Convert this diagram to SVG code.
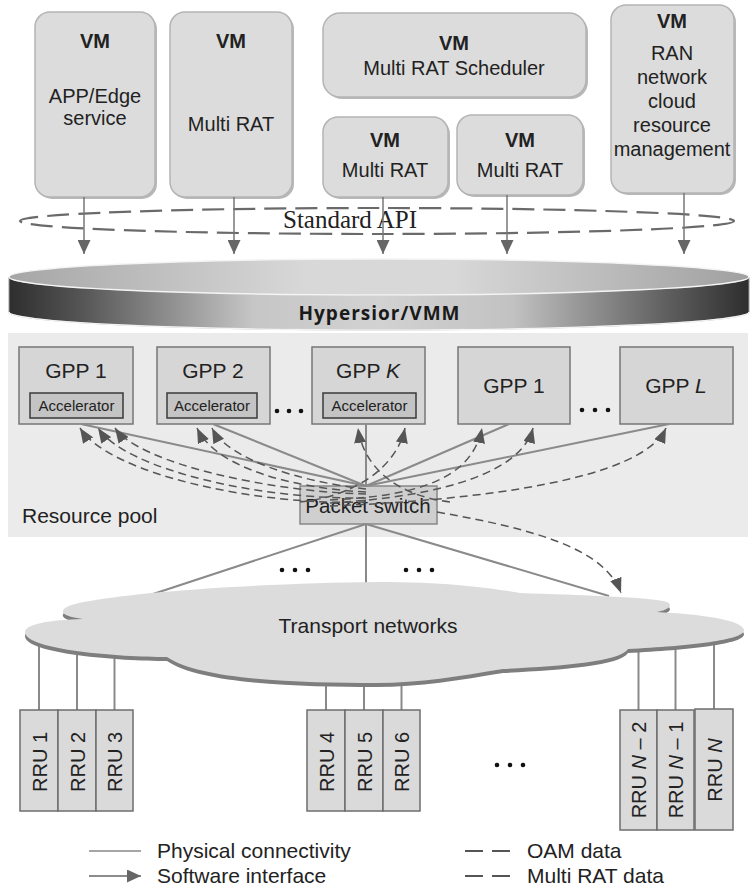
<svg xmlns="http://www.w3.org/2000/svg" width="752" height="896" viewBox="0 0 752 896">
<defs>
<style>
.t{font-family:"Liberation Sans",Arial,sans-serif;fill:#222}
.b{font-weight:bold}
.vm{fill:#dcdcdc;stroke:#b4b4b4;stroke-width:1.5}
.sh{fill:#b8b8b8}
.gpp{fill:#d6d6d6;stroke:#777;stroke-width:1.5}
.acc{fill:#c4c4c4;stroke:#3a3a3a;stroke-width:1.5}
.rru{fill:#dadada;stroke:#6e6e6e;stroke-width:1.5}
.phy{stroke:#8a8a8a;stroke-width:2;fill:none}
.sw{stroke:#777;stroke-width:1.5;fill:none}
.dash{stroke:#555;stroke-width:1.5;fill:none;stroke-dasharray:8 5}
.dot{fill:#111}
</style>
<linearGradient id="band" x1="0" x2="1" y1="0" y2="0">
<stop offset="0" stop-color="#2e2e2e"/>
<stop offset="0.1" stop-color="#565656"/>
<stop offset="0.33" stop-color="#c6c6c6"/>
<stop offset="0.5" stop-color="#d2d2d2"/>
<stop offset="0.68" stop-color="#c2c2c2"/>
<stop offset="0.9" stop-color="#5a5a5a"/>
<stop offset="1" stop-color="#2e2e2e"/>
</linearGradient>
<linearGradient id="topg" x1="0" x2="1" y1="0" y2="0">
<stop offset="0" stop-color="#a6a6a6"/>
<stop offset="0.4" stop-color="#d8d8d8"/>
<stop offset="0.6" stop-color="#d8d8d8"/>
<stop offset="1" stop-color="#a0a0a0"/>
</linearGradient>
<marker id="ah" markerWidth="14" markerHeight="13" refX="14" refY="6.5" orient="auto" markerUnits="userSpaceOnUse"><path d="M0,0 L14,6.5 L0,13 z" fill="#666"/></marker>
<marker id="dh" markerWidth="15" markerHeight="12" refX="15" refY="6" orient="auto" markerUnits="userSpaceOnUse"><path d="M0,0 L15,6 L0,12 z" fill="#555"/></marker>
</defs>
<rect width="752" height="896" fill="#fff"/>

<g id="vm-app">
<rect class="sh" x="37" y="14" width="120" height="185" rx="15"/>
<rect class="vm" x="35" y="12" width="120" height="185" rx="15"/>
<text class="t b" x="95" y="48" font-size="20" text-anchor="middle">VM</text>
<text class="t" x="95" y="103" font-size="20" text-anchor="middle">APP/Edge</text>
<text class="t" x="95" y="125" font-size="20" text-anchor="middle">service</text>
</g>
<g id="vm-multirat1">
<rect class="sh" x="172" y="14" width="122" height="185" rx="15"/>
<rect class="vm" x="170" y="12" width="122" height="185" rx="15"/>
<text class="t b" x="231" y="48" font-size="20" text-anchor="middle">VM</text>
<text class="t" x="231" y="131" font-size="20" text-anchor="middle">Multi RAT</text>
</g>
<g id="vm-scheduler">
<rect class="sh" x="325" y="15" width="263" height="84" rx="17"/>
<rect class="vm" x="323" y="13" width="263" height="84" rx="17"/>
<text class="t b" x="454" y="50" font-size="20" text-anchor="middle">VM</text>
<text class="t" x="454" y="75" font-size="20" text-anchor="middle">Multi RAT Scheduler</text>
</g>
<g id="vm-multirat2">
<rect class="sh" x="325" y="119" width="125" height="80" rx="15"/>
<rect class="vm" x="323" y="117" width="125" height="80" rx="15"/>
<text class="t b" x="385" y="147" font-size="20" text-anchor="middle">VM</text>
<text class="t" x="385" y="177" font-size="20" text-anchor="middle">Multi RAT</text>
</g>
<g id="vm-multirat3">
<rect class="sh" x="459" y="117" width="126" height="80" rx="15"/>
<rect class="vm" x="457" y="115" width="126" height="80" rx="15"/>
<text class="t b" x="520" y="147" font-size="20" text-anchor="middle">VM</text>
<text class="t" x="520" y="177" font-size="20" text-anchor="middle">Multi RAT</text>
</g>
<g id="vm-ran">
<rect class="sh" x="613" y="7" width="123" height="188" rx="15"/>
<rect class="vm" x="611" y="5" width="123" height="188" rx="15"/>
<text class="t b" x="672" y="28" font-size="20" text-anchor="middle">VM</text>
<text class="t" x="672" y="60" font-size="20" text-anchor="middle">RAN</text>
<text class="t" x="672" y="84" font-size="20" text-anchor="middle">network</text>
<text class="t" x="672" y="108" font-size="20" text-anchor="middle">cloud</text>
<text class="t" x="672" y="132" font-size="20" text-anchor="middle">resource</text>
<text class="t" x="672" y="156" font-size="20" text-anchor="middle">management</text>
</g>

<g id="standard-api">
<ellipse cx="377" cy="221" rx="357" ry="13" fill="none" stroke="#6a6a6a" stroke-width="2.2" stroke-dasharray="22 9"/>
<text x="283" y="228" font-family="'Liberation Serif','Times New Roman',serif" font-size="25" fill="#222">Standard API</text>
</g>

<g id="hypervisor">
<path d="M9 277 A370 18 0 0 0 749 277 L749 312 A370 18 0 0 1 9 312 Z" fill="url(#band)" stroke="#999" stroke-width="1"/>
<path d="M9 312 A370 18 0 0 0 749 312" fill="none" stroke="#f2f2f2" stroke-width="1.5"/>
<ellipse cx="379" cy="277" rx="370" ry="18" fill="url(#topg)" stroke="#f4f4f4" stroke-width="1.5"/>
<text x="379" y="320" font-family="'Open Sans','Liberation Sans',sans-serif" font-weight="bold" font-size="19" fill="#1a1a1a" text-anchor="middle" textLength="161">Hypersior/VMM</text>
</g>

<g id="resource-pool">
<rect x="8" y="333" width="740" height="204" fill="#ebebeb"/>
<text class="t" x="22" y="523" font-size="21">Resource pool</text>
</g>

<g id="gpp1">
<rect class="gpp" x="19" y="347" width="114" height="77"/>
<text class="t" x="76" y="378" font-size="21" text-anchor="middle">GPP 1</text>
<rect class="acc" x="30" y="393" width="93" height="25"/>
<text class="t" x="76.5" y="411" font-size="15" text-anchor="middle">Accelerator</text>
</g>
<g id="gpp2">
<rect class="gpp" x="157" y="347" width="113" height="77"/>
<text class="t" x="213" y="378" font-size="21" text-anchor="middle">GPP 2</text>
<rect class="acc" x="167" y="393" width="90" height="25"/>
<text class="t" x="212" y="411" font-size="15" text-anchor="middle">Accelerator</text>
</g>
<g id="gppk">
<rect class="gpp" x="312" y="347" width="113" height="77"/>
<text class="t" x="368" y="378" font-size="21" text-anchor="middle">GPP <tspan font-style="italic">K</tspan></text>
<rect class="acc" x="323" y="393" width="93" height="25"/>
<text class="t" x="369.5" y="411" font-size="15" text-anchor="middle">Accelerator</text>
</g>
<g id="gpp1b">
<rect class="gpp" x="458" y="347" width="112" height="77"/>
<text class="t" x="514" y="393" font-size="21" text-anchor="middle">GPP 1</text>
</g>
<g id="gppl">
<rect class="gpp" x="620" y="347" width="113" height="77"/>
<text class="t" x="676" y="393" font-size="21" text-anchor="middle">GPP <tspan font-style="italic">L</tspan></text>
</g>
<g id="gpp-dots">
<circle class="dot" cx="277" cy="411" r="2.3"/><circle class="dot" cx="289" cy="411" r="2.3"/><circle class="dot" cx="301" cy="411" r="2.3"/>
<circle class="dot" cx="582" cy="410" r="2.3"/><circle class="dot" cx="595" cy="410" r="2.3"/><circle class="dot" cx="608" cy="410" r="2.3"/>
</g>

<g id="packet-switch">
<rect x="300" y="486" width="137" height="38" fill="#cfcfcf" stroke="#888" stroke-width="1.5"/>
<text class="t" x="368" y="513" font-size="20.5" text-anchor="middle">Packet switch</text>
</g>

<g id="connectors">
<line class="sw" x1="84" y1="197" x2="84" y2="254" marker-end="url(#ah)"/>
<line class="sw" x1="234" y1="197" x2="234" y2="254" marker-end="url(#ah)"/>
<line class="sw" x1="383" y1="197" x2="383" y2="254" marker-end="url(#ah)"/>
<line class="sw" x1="507" y1="195" x2="507" y2="254" marker-end="url(#ah)"/>
<line class="sw" x1="684" y1="193" x2="684" y2="254" marker-end="url(#ah)"/>

<line class="phy" x1="366" y1="486" x2="81" y2="424"/>
<line class="phy" x1="366" y1="486" x2="213" y2="424"/>
<line class="phy" x1="366" y1="486" x2="366" y2="424"/>
<line class="phy" x1="366" y1="486" x2="509" y2="424"/>
<line class="phy" x1="366" y1="486" x2="669" y2="424"/>

<line class="phy" x1="366" y1="524" x2="147" y2="596"/>
<line class="phy" x1="366" y1="524" x2="366" y2="592"/>
<line class="phy" x1="366" y1="524" x2="609" y2="596"/>

<path class="dash" d="M366 502 C260 506 110 475 80 428" marker-end="url(#dh)"/>
<path class="dash" d="M366 498 C262 500 126 470 98 428" marker-end="url(#dh)"/>
<path class="dash" d="M366 494 C272 492 140 464 115 428" marker-end="url(#dh)"/>
<path class="dash" d="M366 492 C292 488 216 468 197 428" marker-end="url(#dh)"/>
<path class="dash" d="M366 489 C302 482 228 460 212 428" marker-end="url(#dh)"/>
<path class="dash" d="M450 502 C400 496 364 470 358 428" marker-end="url(#dh)"/>
<path class="dash" d="M300 502 C350 497 396 470 405 428" marker-end="url(#dh)"/>
<path class="dash" d="M330 500 C420 496 472 478 482 428" marker-end="url(#dh)"/>
<path class="dash" d="M330 503 C450 496 522 470 533 428" marker-end="url(#dh)"/>
<path class="dash" d="M330 506 C480 500 642 480 666 428" marker-end="url(#dh)"/>
<path class="dash" d="M437 512 C540 530 605 550 621 593" marker-end="url(#dh)"/>

<line class="phy" x1="39" y1="640" x2="39" y2="710" stroke-width="1.5"/>
<line class="phy" x1="77" y1="640" x2="77" y2="710" stroke-width="1.5"/>
<line class="phy" x1="114.5" y1="640" x2="114.5" y2="710" stroke-width="1.5"/>
<line class="phy" x1="326" y1="660" x2="326" y2="710" stroke-width="1.5"/>
<line class="phy" x1="364" y1="660" x2="364" y2="710" stroke-width="1.5"/>
<line class="phy" x1="401.5" y1="660" x2="401.5" y2="710" stroke-width="1.5"/>
<line class="phy" x1="638.5" y1="640" x2="638.5" y2="710" stroke-width="1.5"/>
<line class="phy" x1="675.5" y1="640" x2="675.5" y2="710" stroke-width="1.5"/>
<line class="phy" x1="714" y1="640" x2="714" y2="709" stroke-width="1.5"/>
</g>

<g id="link-dots">
<circle class="dot" cx="282" cy="570" r="2.3"/><circle class="dot" cx="295" cy="570" r="2.3"/><circle class="dot" cx="308" cy="570" r="2.3"/>
<circle class="dot" cx="406" cy="570" r="2.3"/><circle class="dot" cx="419" cy="570" r="2.3"/><circle class="dot" cx="432" cy="570" r="2.3"/>
</g>

<g id="transport-networks">
<path transform="translate(0,4)" fill="#7e7e7e" d="M25 632 C25 624 50 620 83 619 C55 616 55 606 90 601 C150 590 280 583 376 582 C450 582 490 588 520 593 C580 595 650 597 667 602 C675 606 665 611 656 612 C700 614 743 620 744 630 C745 640 690 646 628 649 C620 662 560 666 503 669 C460 676 420 683 376 683 C300 683 200 680 167 657 C120 657 25 650 25 632 Z"/>
<path fill="#dcdcdc" d="M25 632 C25 624 50 620 83 619 C55 616 55 606 90 601 C150 590 280 583 376 582 C450 582 490 588 520 593 C580 595 650 597 667 602 C675 606 665 611 656 612 C700 614 743 620 744 630 C745 640 690 646 628 649 C620 662 560 666 503 669 C460 676 420 683 376 683 C300 683 200 680 167 657 C120 657 25 650 25 632 Z"/>
<text class="t" x="368" y="633" font-size="21" text-anchor="middle">Transport networks</text>
</g>

<g id="rru-group1">
<rect class="rru" x="20" y="710" width="38" height="101"/>
<rect class="rru" x="58" y="710" width="38" height="101"/>
<rect class="rru" x="96" y="710" width="37" height="101"/>
<text class="t" transform="translate(46.5,762) rotate(-90)" font-size="20" text-anchor="middle">RRU 1</text>
<text class="t" transform="translate(84.5,762) rotate(-90)" font-size="20" text-anchor="middle">RRU 2</text>
<text class="t" transform="translate(122,762) rotate(-90)" font-size="20" text-anchor="middle">RRU 3</text>
</g>
<g id="rru-group2">
<rect class="rru" x="307" y="710" width="38" height="101"/>
<rect class="rru" x="345" y="710" width="38" height="101"/>
<rect class="rru" x="383" y="710" width="37" height="101"/>
<text class="t" transform="translate(333.5,762) rotate(-90)" font-size="20" text-anchor="middle">RRU 4</text>
<text class="t" transform="translate(371.5,762) rotate(-90)" font-size="20" text-anchor="middle">RRU 5</text>
<text class="t" transform="translate(409,762) rotate(-90)" font-size="20" text-anchor="middle">RRU 6</text>
</g>
<g id="rru-dots">
<circle class="dot" cx="497" cy="765" r="2.3"/><circle class="dot" cx="510" cy="765" r="2.3"/><circle class="dot" cx="523" cy="765" r="2.3"/>
</g>
<g id="rru-group3">
<rect class="rru" x="620" y="710" width="37" height="120"/>
<rect class="rru" x="657" y="710" width="37" height="120"/>
<rect class="rru" x="695" y="709" width="38" height="121" stroke="#4a4a4a"/>
<text class="t" transform="translate(646,770) rotate(-90)" font-size="20" text-anchor="middle">RRU <tspan font-style="italic">N</tspan> – 2</text>
<text class="t" transform="translate(683,770) rotate(-90)" font-size="20" text-anchor="middle">RRU <tspan font-style="italic">N</tspan> – 1</text>
<text class="t" transform="translate(721.5,770) rotate(-90)" font-size="20" text-anchor="middle">RRU <tspan font-style="italic">N</tspan></text>
</g>

<g id="legend">
<line x1="89" y1="851" x2="141" y2="851" stroke="#888" stroke-width="1.5"/>
<text class="t" x="157" y="858" font-size="21">Physical connectivity</text>
<line x1="89" y1="876" x2="141" y2="876" stroke="#666" stroke-width="1.5" marker-end="url(#ah)"/>
<text class="t" x="157" y="883" font-size="21">Software interface</text>
<line x1="465" y1="851" x2="483" y2="851" stroke="#555" stroke-width="2"/>
<line x1="492" y1="851" x2="510" y2="851" stroke="#555" stroke-width="2"/>
<text class="t" x="527" y="858" font-size="21">OAM data</text>
<line x1="465" y1="876" x2="483" y2="876" stroke="#555" stroke-width="2"/>
<line x1="492" y1="876" x2="510" y2="876" stroke="#555" stroke-width="2"/>
<text class="t" x="527" y="883" font-size="21">Multi RAT data</text>
</g>
</svg>
